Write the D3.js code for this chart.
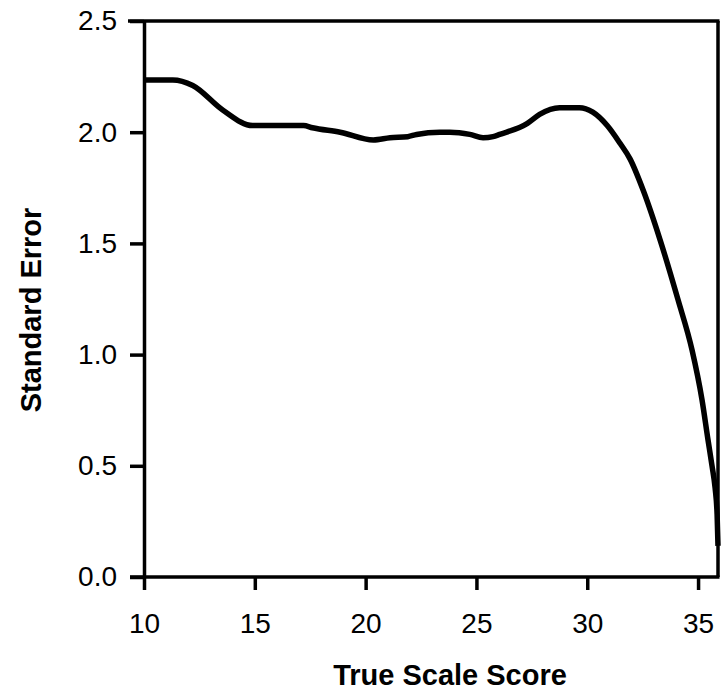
<!DOCTYPE html>
<html>
<head>
<meta charset="utf-8">
<script src="https://cdn.jsdelivr.net/npm/d3@7"></script>
<style>
  html, body { margin: 0; padding: 0; background: #fff; }
  svg { display: block; }
  text { font-family: "Liberation Sans", Arial, Helvetica, sans-serif; fill: #000; }
</style>
</head>
<body>
<div id="chart"></div>
<script>
// Data
const trueScore = [10.05, 11.3, 12.2, 13.55, 14.9, 17.2, 17.6, 18.85, 20.35, 21.1, 21.9, 22.3, 23.35, 23.8, 24.7, 25.3, 25.75, 26.05, 27.3, 27.85, 28.75, 29.65, 30.25, 30.9, 31.48, 31.93, 32.52, 33.29, 34.1, 34.73, 35.18, 35.45, 35.63, 35.77, 35.86, 35.9];
const stdError  = [2.235, 2.235, 2.21, 2.10, 2.03, 2.03, 2.02, 2.00, 1.965, 1.975, 1.98, 1.99, 2.00, 2.00, 1.99, 1.975, 1.98, 1.99, 2.04, 2.08, 2.11, 2.11, 2.09, 2.03, 1.95, 1.88, 1.74, 1.515, 1.245, 1.02, 0.796, 0.616, 0.50, 0.40, 0.28, 0.14];
const xTicks = [10, 15, 20, 25, 30, 35];
const yTicks = [0.0, 0.5, 1.0, 1.5, 2.0, 2.5];
const xTitle = "True Scale Score";
const yTitle = "Standard Error";

const W = 728, H = 695;
const mLeft = 144, mRight = 718, mTop = 21, mBottom = 577;

const svg = d3.select("#chart").append("svg").attr("width", W).attr("height", H);

const x = d3.scaleLinear().domain([10, 35.9]).range([mLeft, mRight]);
const y = d3.scaleLinear().domain([0, 2.5]).range([mBottom, mTop]);

// Frame (top and right)
svg.append("line").attr("x1", mLeft - 16).attr("x2", mRight + 1.5).attr("y1", mTop).attr("y2", mTop)
  .attr("stroke", "#000").attr("stroke-width", 3.5);
svg.append("line").attr("x1", mRight).attr("x2", mRight).attr("y1", mTop).attr("y2", mBottom)
  .attr("stroke", "#000").attr("stroke-width", 3.5);

// Axes
const xAxis = d3.axisBottom(x).tickValues(xTicks).tickFormat(d3.format("d")).tickSize(13).tickSizeOuter(0).tickPadding(23);
const yAxis = d3.axisLeft(y).tickValues(yTicks).tickFormat(d3.format(".1f")).tickSize(14).tickSizeOuter(0).tickPadding(13);

const gx = svg.append("g").attr("transform", `translate(0,${mBottom})`).call(xAxis);
const gy = svg.append("g").attr("transform", `translate(${mLeft},0)`).call(yAxis);

[gx, gy].forEach(g => {
  g.select(".domain").attr("stroke", "#000").attr("stroke-width", 3.5);
  g.selectAll(".tick line").attr("stroke", "#000").attr("stroke-width", 3.5);
  g.selectAll(".tick text").attr("font-size", 28).attr("font-family", "Liberation Sans, Arial, sans-serif").attr("fill", "#000");
});
// extend bottom axis line slightly left like reference
gx.select(".domain").attr("d", `M${mLeft - 14},0H${mRight + 1.5}`);

// Curve
const line = d3.line().x((d, i) => x(trueScore[i])).y((d, i) => y(stdError[i])).curve(d3.curveMonotoneX);
svg.append("path").datum(stdError).attr("d", line)
  .attr("fill", "none").attr("stroke", "#000").attr("stroke-width", 5.5).attr("stroke-linejoin", "round");

// Titles
svg.append("text").attr("x", 450).attr("y", 685).attr("text-anchor", "middle")
  .attr("font-size", 29).attr("font-weight", "bold").text(xTitle);
svg.append("text").attr("transform", `translate(41,310) rotate(-90)`).attr("text-anchor", "middle")
  .attr("font-size", 29).attr("font-weight", "bold").text(yTitle);
</script>
</body>
</html>
